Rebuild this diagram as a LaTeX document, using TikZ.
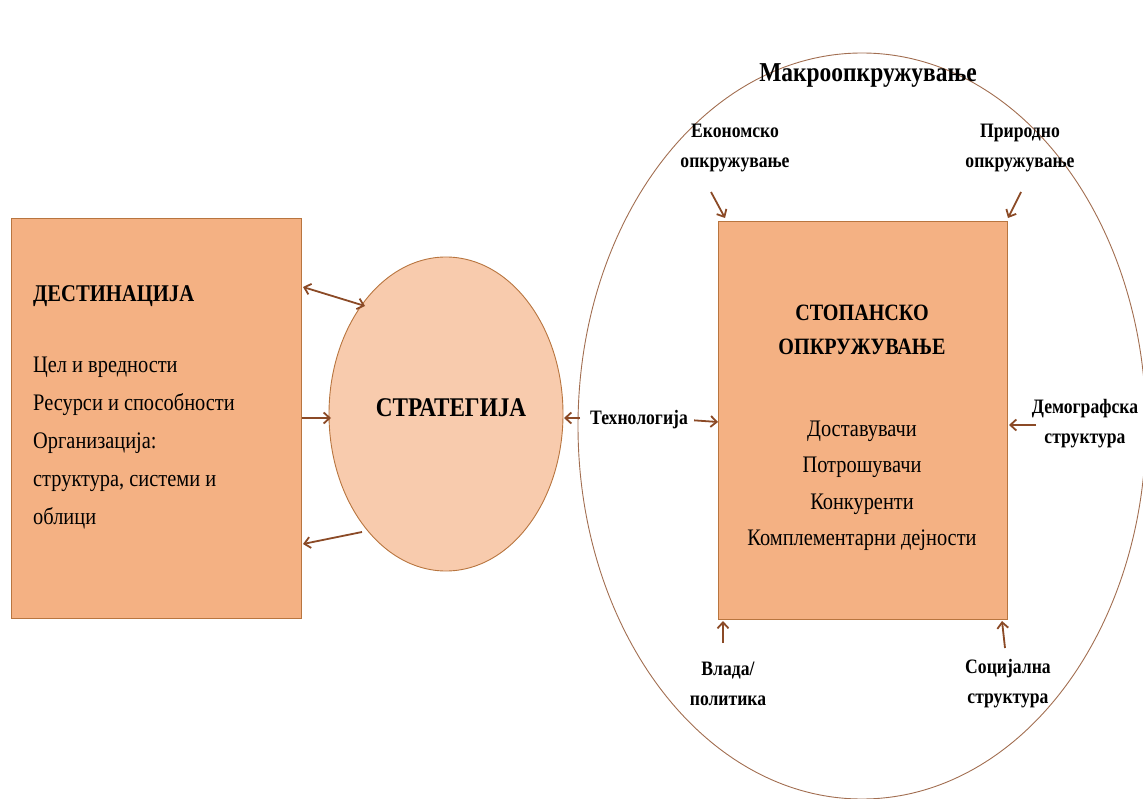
\documentclass[tikz,border=0pt]{standalone}
\usepackage{fontspec}
\setmainfont{Liberation Serif}[FakeStretch=0.86]
\usetikzlibrary{arrows.meta,shapes.geometric}
\definecolor{boxfill}{HTML}{F4B183}
\definecolor{boxline}{HTML}{B8753F}
\definecolor{stratfill}{HTML}{F8CBAD}
\definecolor{arrowcol}{HTML}{8B4A26}
\begin{document}
\begin{tikzpicture}[x=1pt,y=-1pt,
  box/.style={draw=boxline,line width=1pt,fill=boxfill},
  conn/.style={draw=arrowcol,line width=1.8pt,-{Straight Barb[length=6pt,width=11pt,line width=1.8pt]}},
  bconn/.style={conn,{Straight Barb[length=6pt,width=11pt,line width=1.8pt]}-{Straight Barb[length=6pt,width=11pt,line width=1.8pt]}},
  lbl/.style={font=\fontsize{20.5}{30}\selectfont\bfseries,align=center,inner sep=1pt},
  body/.style={font=\fontsize{23.7}{38}\selectfont},
]
\useasboundingbox (0,0) rectangle (1143,799);

% outer environment
\draw[arrowcol!80,line width=0.9pt] (862,426) ellipse [x radius=284,y radius=373];
\node[font=\fontsize{27.3}{30}\selectfont\bfseries] (macro) at (868,76) {Макроопкружување};

% destination box
\path[box] (11,219) rectangle (301,618);
\node[anchor=west,font=\fontsize{24}{30}\selectfont\bfseries,inner sep=0pt] (dest) at (33,296) {ДЕСТИНАЦИЈА};
\node[anchor=north west,body,align=left,inner sep=0pt] (destlist) at (33,357)
  {Цел и вредности\\Ресурси и способности\\Организација:\\структура, системи и\\облици};

% strategy
\node[draw=boxline,line width=0.9pt,fill=stratfill,ellipse,minimum width=234pt,minimum height=314pt,inner sep=0pt] (strat) at (446,414) {};
\node[font=\fontsize{27}{30}\selectfont\bfseries] (stratlbl) at (451,408) {СТРАТЕГИЈА};

% industry box
\path[box] (718,222) rectangle (1007,619);
\node[font=\fontsize{23.4}{34}\selectfont\bfseries,align=center] (ind) at (862,330) {СТОПАНСКО\\ОПКРУЖУВАЊЕ};
\node[font=\fontsize{23.7}{36.5}\selectfont,align=center] (indlist) at (862,486) {Доставувачи\\Потрошувачи\\Конкуренти\\Комплементарни дејности};

% anchor points for the connectors
\coordinate (d1) at (303,287);
\coordinate (s1) at (365,306);
\coordinate (d2) at (302,418);
\coordinate (s2) at (331,418);
\coordinate (s3) at (362,532);
\coordinate (d3) at (303,544);
\coordinate (s4) at (564,418);
\coordinate (e4) at (580,418);

\draw[bconn] (d1) -- (s1);
\draw[conn] (d2) -- (s2);
\draw[conn] (s3) -- (d3);
\draw[conn] (e4) -- (s4);

% macro factors
\node[lbl] (tech) at (639,420) {Технологија};
\coordinate (techT) at (718,422);
\draw[conn,shorten <=5pt] (tech.east) -- (techT);

\node[lbl] (econ) at (735,148) {Економско\\опкружување};
\coordinate (econT) at (725,218);
\draw[conn] (711,192) -- (econT);

\node[lbl] (nat) at (1020,148) {Природно\\опкружување};
\coordinate (natT) at (1008,218);
\draw[conn] (1021,192) -- (natT);

\node[lbl] (demo) at (1085,424) {Демографска\\структура};
\coordinate (demoT) at (1009,425);
\draw[conn] (1036,425) -- (demoT);

\node[lbl] (gov) at (728,684) {Влада/\\политика};
\coordinate (govT) at (723,621);
\draw[conn] (723,643) -- (govT);

\node[lbl] (soc) at (1008,684) {Социјална\\структура};
\coordinate (socT) at (1002,621);
\draw[conn] (1005,648) -- (socT);
\end{tikzpicture}
\end{document}
